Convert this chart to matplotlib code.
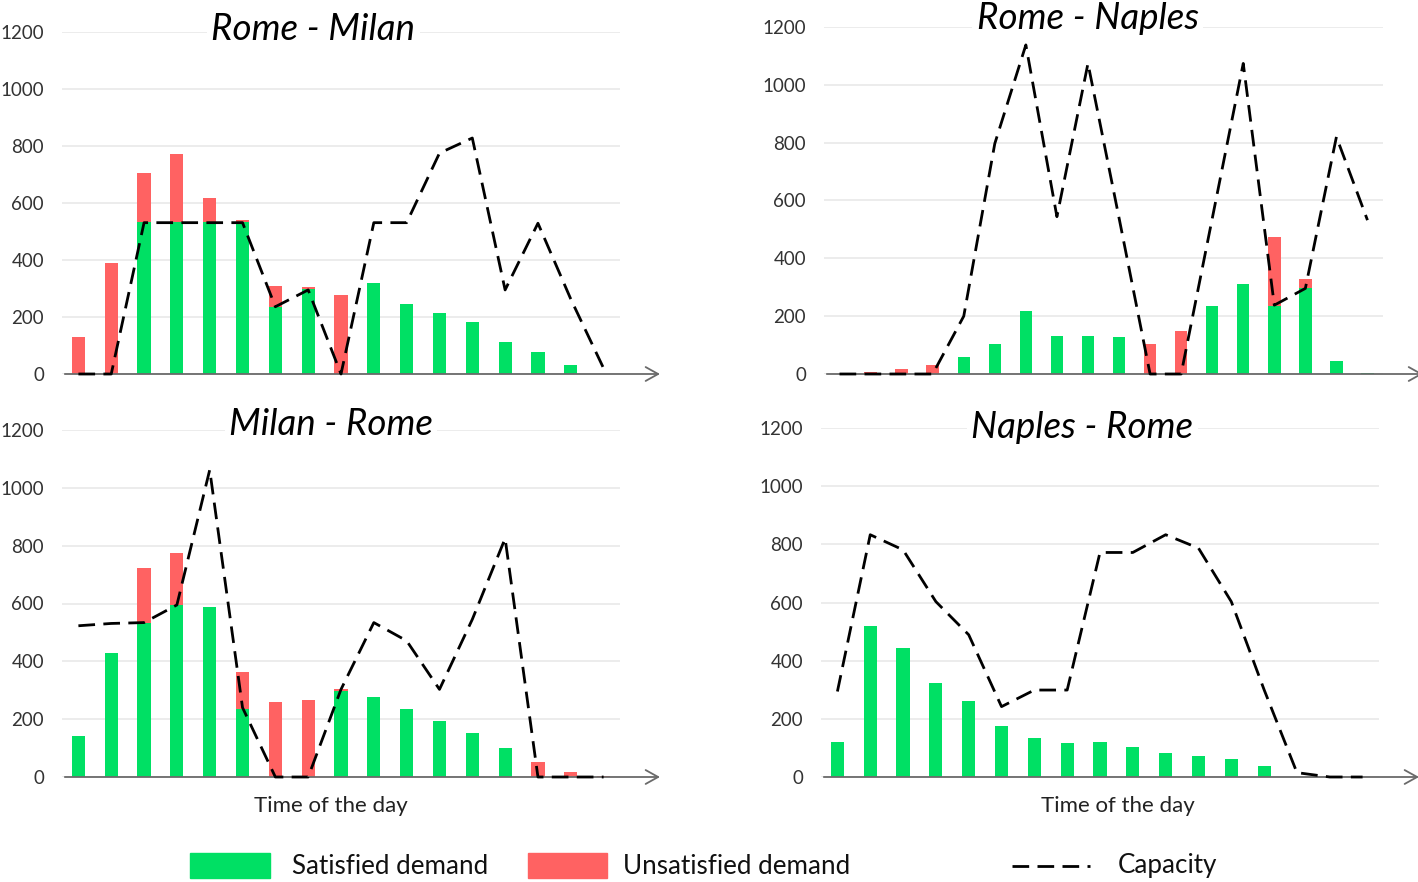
import numpy as np
import matplotlib
matplotlib.use("Agg")
import matplotlib.pyplot as plt
from matplotlib.patches import Rectangle
from matplotlib.lines import Line2D

# demand / capacity per time slot
rome_milan_sat = [0, 0, 535, 535, 535, 535, 234, 297, 0, 320, 246, 215, 183, 111, 76, 33, 0]
rome_milan_unsat = [130, 390, 171, 236, 82, 6, 76, 8, 276, 0, 0, 0, 0, 0, 0, 0, 0]
rome_milan_cap = [0, 0, 531, 531, 531, 531, 236, 295, 0, 531, 531, 775, 828, 295, 529, 263, 20]

rome_naples_sat = [0, 0, 0, 0, 60, 104, 217, 132, 132, 128, 0, 0, 235, 311, 235, 298, 45, 3]
rome_naples_unsat = [0, 6, 16, 31, 0, 0, 0, 0, 0, 0, 104, 149, 0, 0, 239, 31, 0, 0]
rome_naples_cap = [0, 0, 0, 0, 200, 797, 1138, 544, 1074, 540, 0, 0, 537, 1074, 238, 296, 820, 532]

milan_rome_sat = [143, 430, 534, 595, 588, 234, 0, 0, 299, 278, 234, 194, 153, 101, 0, 0, 0]
milan_rome_unsat = [0, 0, 188, 178, 0, 130, 260, 266, 4, 0, 0, 0, 0, 0, 53, 18, 3]
milan_rome_cap = [523, 531, 534, 595, 1062, 240, 0, 0, 303, 534, 471, 303, 545, 825, 0, 0, 0]

naples_rome_sat = [122, 520, 445, 322, 262, 177, 133, 118, 122, 104, 81, 72, 61, 39, 0, 0, 0]
naples_rome_unsat = [0] * 17
naples_rome_cap = [294, 833, 781, 603, 489, 242, 299, 299, 772, 772, 833, 787, 603, 300, 15, 0, 0]

yticks = [0, 200, 400, 600, 800, 1000, 1200]

GREEN = "#00E064"
RED = "#FF6262"
DASH = (0, (6, 3))

plt.rcParams["font.family"] = ["Lato", "DejaVu Sans"]

W, H = 1418, 882
fig = plt.figure(figsize=(W / 100, H / 100), dpi=100)


def px_rect(x0, x1, ytop, ybot):
    return [x0 / W, 1 - ybot / H, (x1 - x0) / W, (ybot - ytop) / H]


panels = [
    (px_rect(62, 620, 32, 374), "Rome - Milan", (0.45, 0.977),
     rome_milan_sat, rome_milan_unsat, rome_milan_cap, None),
    (px_rect(824, 1383, 27, 374), "Rome - Naples", (0.472, 0.994),
     rome_naples_sat, rome_naples_unsat, rome_naples_cap, None),
    (px_rect(62, 620, 430, 777), "Milan - Rome", (0.482, 0.986),
     milan_rome_sat, milan_rome_unsat, milan_rome_cap, (0.482, -0.10)),
    (px_rect(821, 1379, 428, 777), "Naples - Rome", (0.468, 0.971),
     naples_rome_sat, naples_rome_unsat, naples_rome_cap, (0.532, -0.10)),
]

for rect, title, (tx, ty), sat, unsat, cap, xlab in panels:
    ax = fig.add_axes(rect)
    n = len(sat)
    x = np.arange(n)
    sat = np.array(sat)
    unsat = np.array(unsat)
    ax.bar(x, sat, width=0.4, color=GREEN, zorder=2)
    ax.bar(x, unsat, width=0.4, bottom=sat, color=RED, zorder=2)
    # x axis drawn as an arrow running past the plot area
    ax.annotate("", xy=(1 + 40 / 558, 0), xytext=(0.005, 0),
                xycoords="axes fraction", textcoords="axes fraction",
                arrowprops=dict(arrowstyle="->, head_length=0.9, head_width=0.5",
                                color="#6a6a6a", lw=1.3, shrinkA=0, shrinkB=0),
                annotation_clip=False, zorder=3)
    ax.plot(np.arange(len(cap)), cap, color="black", lw=2.0,
            linestyle=DASH, zorder=5, clip_on=False)
    ax.set_xlim(-0.5, n - 0.5)
    ax.set_ylim(0, 1200)
    ax.set_yticks(yticks)
    ax.set_xticks([])
    ax.tick_params(axis="y", length=0, pad=13, labelsize=13.5, labelcolor="#333333")
    ax.grid(axis="y", color="#ebebeb", lw=1.3, zorder=0)
    for s in ax.spines.values():
        s.set_visible(False)
    ax.text(tx, ty, title, transform=ax.transAxes, ha="center", va="baseline",
            fontsize=26.5, style="italic", color="black", zorder=6,
            bbox=dict(boxstyle="square,pad=0.12", fc="white", ec="none"))
    if xlab is not None:
        ax.text(xlab[0], xlab[1], "Time of the day", transform=ax.transAxes,
                ha="center", va="baseline", fontsize=16, color="#222222")

# legend row at the bottom
lax = fig.add_axes([0, 0, 1, 1], zorder=-1)
lax.set_xlim(0, W)
lax.set_ylim(H, 0)
lax.axis("off")
lax.add_patch(Rectangle((190, 853), 80, 25, color=GREEN))
lax.text(292, 866, "Satisfied demand", fontsize=18.7, va="center", ha="left", color="#111111")
lax.add_patch(Rectangle((528, 853), 79, 25, color=RED))
lax.text(623, 866, "Unsatisfied demand", fontsize=18.7, va="center", ha="left", color="#111111")
lax.add_line(Line2D([1012, 1090], [866, 866], color="black", lw=2.0, linestyle=DASH))
lax.text(1118, 866, "Capacity", fontsize=18.7, va="center", ha="left", color="#111111")

fig.savefig("out.png", dpi=100)
